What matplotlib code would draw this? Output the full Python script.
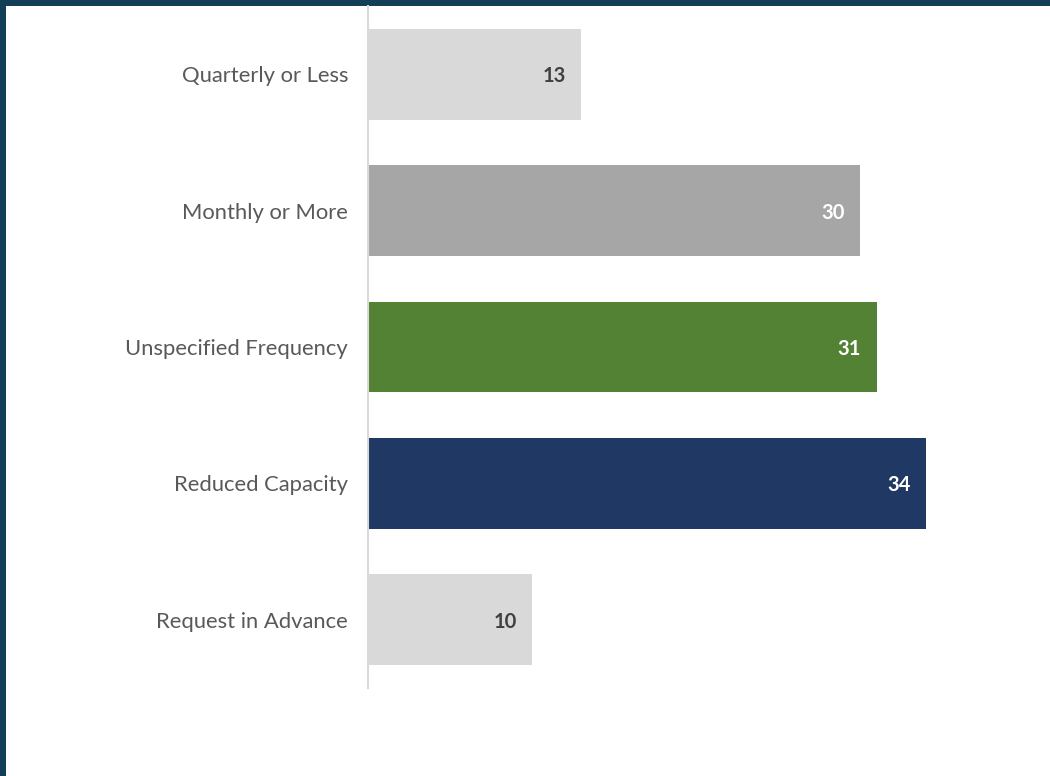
import matplotlib.pyplot as plt
from matplotlib.patches import Rectangle

categories = ["Quarterly or Less", "Monthly or More", "Unspecified Frequency",
              "Reduced Capacity", "Request in Advance"]
values = [13, 30, 31, 34, 10]
bar_colors = ["#d9d9d9", "#a6a6a6", "#548235", "#203864", "#d9d9d9"]
label_colors = ["#404040", "#ffffff", "#ffffff", "#ffffff", "#404040"]

plt.rcParams['font.family'] = ['Lato', 'DejaVu Sans']

W, H = 1050, 776
fig = plt.figure(figsize=(W / 100, H / 100), dpi=100)
fig.patch.set_facecolor("#123f57")
# white panel inside the dark frame (drawn beneath the axes)
fig.patches.append(Rectangle((6 / W, 0), 1 - 6 / W, (H - 6) / H,
                             transform=fig.transFigure, facecolor="white",
                             edgecolor="none", zorder=-5))

ax = fig.add_axes([368 / W, (H - 688) / H, (1049 - 368) / W, 682 / H])
ax.set_facecolor("none")

y = list(range(len(categories)))
ax.barh(y, values, height=0.667, color=bar_colors)

for yi, v, c in zip(y, values, label_colors):
    ax.text(v - 0.95, yi, str(v), ha="right", va="center_baseline",
            fontsize=14.5, fontweight="bold", color=c)

ax.set_ylim(4.5, -0.5)
ax.set_xlim(0, 41.5)
ax.set_yticks(y)
ax.set_yticklabels(categories, fontsize=15.8, color="#595959")
ax.tick_params(axis="y", length=0, pad=14.4)
ax.set_xticks([])
for s in ["top", "right", "bottom"]:
    ax.spines[s].set_visible(False)
ax.spines["left"].set_color("#d9d9d9")
ax.spines["left"].set_linewidth(1.5)

fig.savefig("out.png", dpi=100)
